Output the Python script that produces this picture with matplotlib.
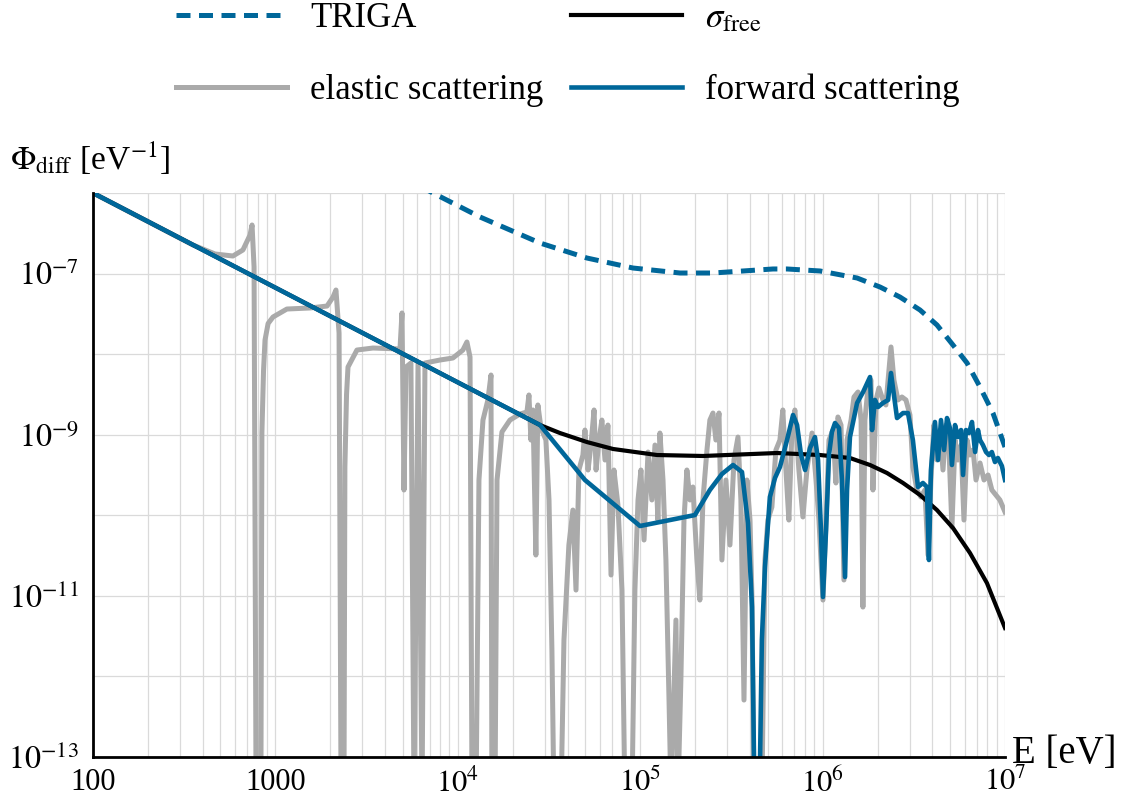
import numpy as np
import matplotlib
matplotlib.use("Agg")
import matplotlib.pyplot as plt
from matplotlib.lines import Line2D
from matplotlib.ticker import FixedLocator, NullFormatter

plt.rcParams["font.family"] = ["Liberation Serif", "DejaVu Serif"]
plt.rcParams["mathtext.fontset"] = "stix"

BLUE = "#00679a"
GRAY = "#aaaaaa"

# values, as log10(E / eV) and log10(Phi / eV^-1)
triga_logE = [3.683, 3.864, 4.122, 4.451, 4.708, 4.960, 5.218, 5.399, 5.728, 5.805,
              5.986, 6.189, 6.315, 6.424, 6.534, 6.627, 6.715, 6.792, 6.863, 6.934, 7.000]
triga_logphi = [-5.789, -6.000, -6.298, -6.621, -6.807, -6.931, -6.993, -6.993, -6.943, -6.943,
                -6.968, -7.055, -7.167, -7.291, -7.452, -7.638, -7.887, -8.110, -8.408, -8.731, -9.153]

free_logE = [2.000, 4.451, 4.560, 4.708, 4.851, 5.092, 5.344, 5.750, 5.986, 6.150,
             6.260, 6.353, 6.441, 6.534, 6.627, 6.715, 6.808, 6.901, 7.000]
free_logphi = [-6.000, -8.880, -8.979, -9.091, -9.177, -9.252, -9.264, -9.227, -9.252, -9.289,
               -9.376, -9.475, -9.599, -9.748, -9.935, -10.158, -10.468, -10.841, -11.399]

elastic_logE = [
    2.000, 2.548, 2.669, 2.767, 2.822, 2.861, 2.872, 2.883, 2.894, 2.905,
    2.921, 2.926, 2.935, 2.943, 2.960, 2.987, 3.063, 3.190, 3.283, 3.316, 3.332, 3.349,
    3.360, 3.376, 3.381, 3.390, 3.398, 3.447, 3.535, 3.683, 3.694, 3.705, 3.716,
    3.743, 3.760, 3.782, 3.804, 3.820, 3.902, 3.973, 4.028, 4.050, 4.067,
    4.078, 4.100, 4.116, 4.138, 4.165, 4.182, 4.187, 4.204, 4.215, 4.242,
    4.286, 4.341, 4.379, 4.390, 4.401, 4.412, 4.428, 4.439, 4.456, 4.483,
    4.500, 4.516, 4.527, 4.566, 4.582, 4.609, 4.631, 4.648, 4.664, 4.686,
    4.697, 4.714, 4.730, 4.747, 4.758, 4.774, 4.790, 4.807, 4.823, 4.840,
    4.856, 4.878, 4.900, 4.916, 4.955, 4.971, 4.988, 5.004, 5.021, 5.043,
    5.064, 5.081, 5.097, 5.108, 5.125, 5.141, 5.158, 5.169, 5.196, 5.207,
    5.223, 5.240, 5.256, 5.273, 5.289, 5.311, 5.327, 5.344, 5.366, 5.382,
    5.399, 5.415, 5.432, 5.448, 5.470, 5.492, 5.514, 5.536, 5.552, 5.569,
    5.585, 5.602, 5.613, 5.624, 5.667, 5.684, 5.700, 5.722, 5.744, 5.766,
    5.782, 5.799, 5.815, 5.832, 5.848, 5.870, 5.892, 5.914, 5.942, 5.964,
    5.980, 6.002, 6.019, 6.035, 6.057, 6.073, 6.084, 6.101, 6.117, 6.134,
    6.156, 6.172, 6.194, 6.211, 6.221, 6.232, 6.249, 6.265, 6.276, 6.293,
    6.309, 6.331, 6.347, 6.364, 6.375, 6.391, 6.413, 6.435, 6.457, 6.479,
    6.495, 6.517, 6.539, 6.561, 6.578, 6.594, 6.610, 6.627, 6.643, 6.660,
    6.676, 6.693, 6.709, 6.726, 6.742, 6.759, 6.775, 6.792, 6.808, 6.825,
    6.841, 6.863, 6.885, 6.907, 6.928, 6.950, 6.972, 7.000]
elastic_logphi = [
    -6.000, -6.645, -6.757, -6.782, -6.707, -6.521, -6.397, -6.918, -13.5, -13.5,
    -13.04, -8.979, -8.200, -7.825, -7.620, -7.539, -7.440, -7.427, -7.403, -7.291, -7.204, -7.738,
    -13.5, -13.5, -9.401, -8.500, -8.160, -7.949, -7.924, -7.936, -7.489, -9.686, -8.160,
    -8.110, -13.5, -8.110, -13.5, -8.110, -8.073, -8.048, -7.949, -7.849, -8.036,
    -13.5, -13.5, -9.562, -8.818, -8.569, -8.259, -13.5, -13.5, -9.562, -8.966,
    -8.818, -8.743, -8.718, -8.507, -9.066, -8.693, -10.493, -8.631, -8.917, -9.066,
    -9.810, -11.672, -13.5, -13.5, -11.548, -10.369, -9.935, -10.928, -9.438, -9.252,
    -8.942, -9.438, -9.128, -8.693, -9.438, -9.066, -8.818, -9.314, -8.880, -10.741,
    -9.438, -9.873, -10.928, -13.5, -13.5, -10.928, -9.810, -9.438, -10.307, -9.215,
    -9.810, -9.128, -10.059, -8.979, -9.562, -10.555, -12.293, -13.5, -11.300, -13.5,
    -12.045, -10.059, -9.438, -9.810, -9.649, -10.555, -11.052, -9.810, -9.190, -8.818,
    -8.731, -9.066, -8.731, -10.555, -9.562, -10.369, -9.314, -9.029, -9.810, -12.293,
    -9.562, -10.059, -11.052, -13.5, -13.5, -10.555, -10.059, -9.897, -9.190, -9.066,
    -8.693, -9.438, -10.059, -8.942, -8.693, -9.438, -10.021, -9.438, -8.979, -9.562,
    -10.059, -11.052, -10.059, -9.066, -8.942, -9.599, -8.780, -8.880, -10.803, -9.066,
    -8.818, -8.532, -8.470, -8.818, -11.139, -8.818, -8.420, -8.321, -9.686, -8.569,
    -8.420, -8.569, -8.631, -8.197, -7.911, -8.321, -8.569, -8.532, -8.569, -8.756,
    -9.401, -9.686, -9.773, -9.686, -10.493, -9.562, -8.880, -9.314, -8.942, -9.438,
    -8.880, -9.190, -10.146, -9.066, -9.314, -9.128, -10.059, -9.066, -9.252, -9.190,
    -9.562, -9.351, -9.562, -9.500, -9.686, -9.748, -9.810, -9.959]

forward_logE = [
    2.000, 4.451, 4.697, 4.999, 5.300, 5.382, 5.448, 5.509, 5.558, 5.591,
    5.613, 5.624, 5.640, 5.657, 5.667, 5.684, 5.711, 5.739, 5.766, 5.805,
    5.838, 5.860, 5.882, 5.904, 5.931, 5.958, 5.975, 5.991, 6.002, 6.019,
    6.035, 6.051, 6.068, 6.090, 6.106, 6.123, 6.134, 6.150, 6.189, 6.222,
    6.260, 6.271, 6.287, 6.304, 6.331, 6.359, 6.375, 6.391, 6.408, 6.441,
    6.468, 6.495, 6.523, 6.550, 6.572, 6.583, 6.594, 6.616, 6.633, 6.649,
    6.666, 6.682, 6.698, 6.709, 6.726, 6.742, 6.759, 6.770, 6.786, 6.803,
    6.819, 6.836, 6.852, 6.863, 6.879, 6.896, 6.912, 6.928, 6.945, 6.961,
    6.983, 7.000]
forward_logphi = [
    -6.000, -8.880, -9.562, -10.133, -9.997, -9.686, -9.488, -9.376, -9.463, -10.096,
    -11.139, -13.04, -13.5, -13.04, -11.548, -10.642, -9.773, -9.537, -9.401, -9.066,
    -8.755, -8.880, -9.252, -9.438, -9.165, -9.029, -9.314, -10.183, -11.014, -10.183,
    -9.252, -8.966, -8.855, -8.917, -9.562, -10.766, -9.686, -9.029, -8.606, -8.470,
    -8.284, -8.942, -8.569, -8.656, -8.606, -8.569, -8.234, -8.507, -8.793, -8.731,
    -8.731, -9.066, -9.649, -9.599, -9.649, -10.555, -9.438, -8.842, -9.314, -8.818,
    -9.190, -8.793, -8.917, -9.376, -8.880, -9.029, -8.942, -9.500, -8.942, -8.979,
    -8.842, -9.215, -8.942, -9.066, -9.128, -9.215, -9.252, -9.215, -9.339, -9.289,
    -9.388, -9.562]

x_major = [1e2, 1e3, 1e4, 1e5, 1e6, 1e7]
x_labels = ["100", "1000", r"$10^4$", r"$10^5$", r"$10^6$", r"$10^7$"]
y_major = [1e-13, 1e-11, 1e-9, 1e-7]
y_labels = [r"$10^{-13}$", r"$10^{-11}$", r"$10^{-9}$", r"$10^{-7}$"]
y_minor = [1e-12, 1e-10, 1e-8, 1e-6]


def pw(a):
    return np.power(10.0, np.asarray(a))


DASH = (0, (2.8, 1.7))
fig = plt.figure(figsize=(11.29, 8.05), dpi=100)
W, H = 1129, 805
ax = fig.add_axes([93 / W, 1 - 757 / H, (1005 - 93) / W, (757 - 193) / H])

ax.plot(pw(triga_logE), pw(triga_logphi), color=BLUE, lw=3.6, ls=DASH, zorder=3)
ax.plot(pw(elastic_logE), pw(elastic_logphi), color=GRAY, lw=3.6, zorder=3)
ax.plot(pw(free_logE), pw(free_logphi), color="black", lw=3.0, zorder=4)
ax.plot(pw(forward_logE), pw(forward_logphi), color=BLUE, lw=3.3, zorder=5)

ax.set_xscale("log")
ax.set_yscale("log")
ax.set_xlim(1e2, 1e7)
ax.set_ylim(1e-13, 1e-6)

ax.xaxis.set_major_locator(FixedLocator(x_major))
ax.set_xticklabels(x_labels)
ax.xaxis.set_minor_locator(FixedLocator(
    [m * 10.0 ** d for d in range(2, 7) for m in range(2, 10)]))
ax.xaxis.set_minor_formatter(NullFormatter())
ax.yaxis.set_major_locator(FixedLocator(y_major))
ax.set_yticklabels(y_labels)
ax.yaxis.set_minor_locator(FixedLocator(y_minor))
ax.yaxis.set_minor_formatter(NullFormatter())

ax.grid(True, which="both", color="#dadada", lw=0.9, zorder=0)
ax.set_axisbelow(True)
ax.tick_params(which="both", length=0, labelsize=22)
ax.tick_params(axis="y", labelsize=23)
ax.tick_params(axis="x", pad=8)
ax.tick_params(axis="y", pad=10)

for s in ["top", "right"]:
    ax.spines[s].set_visible(False)
for s in ["left", "bottom"]:
    ax.spines[s].set_linewidth(2.0)
    ax.spines[s].set_color("black")
    ax.spines[s].set_zorder(6)

fig.text(10 / W, 1 - 158 / H, r"$\Phi_{\mathrm{diff}}$ [eV$^{-1}$]", fontsize=24,
         ha="left", va="center")
fig.text(1012 / W, 1 - 753 / H, "E [eV]", fontsize=28, ha="left", va="center")

handles = [
    Line2D([], [], color=BLUE, lw=3.6, ls=DASH),
    Line2D([], [], color=GRAY, lw=3.6),
    Line2D([], [], color="black", lw=3.0),
    Line2D([], [], color=BLUE, lw=3.3),
]
labels = ["TRIGA", "elastic scattering", r"$\sigma_{\mathrm{free}}$", "forward scattering"]
fig.legend(handles, labels, ncol=2, loc="center", bbox_to_anchor=(0.503, 0.932),
           frameon=False, fontsize=25, handlelength=3.2, handletextpad=0.66,
           labelspacing=1.12, columnspacing=0.8)

fig.savefig("out.png", dpi=100)
